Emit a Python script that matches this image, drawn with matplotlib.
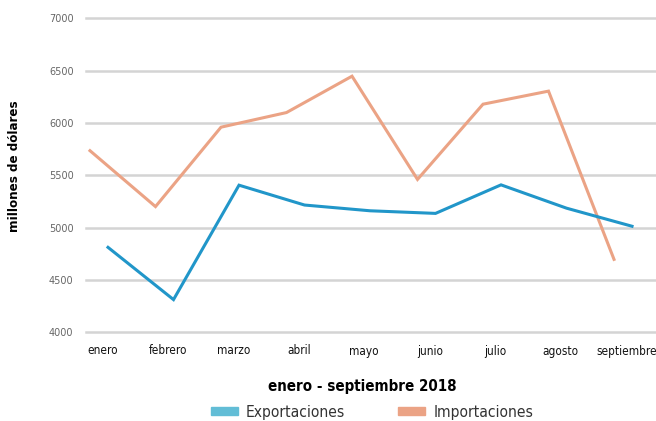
import matplotlib
matplotlib.use("Agg")
import matplotlib.pyplot as plt
from matplotlib.patches import Patch
import numpy as np

meses = ["enero", "febrero", "marzo", "abril", "mayo", "junio", "julio", "agosto", "septiembre"]
exportaciones = [4810, 4310, 5405, 5215, 5160, 5135, 5408, 5185, 5012]
importaciones = [5735, 5200, 5960, 6100, 6448, 5460, 6180, 6305, 4695]
yticks = [4000, 4500, 5000, 5500, 6000, 6500, 7000]

W, H = 656, 421
fig = plt.figure(figsize=(W / 100, H / 100), dpi=100)
ax = fig.add_axes([86 / W, 1 - 332 / H, 1 - 86 / W, (332 - 18.5) / H])

cond = dict(family="DejaVu Sans", stretch="condensed")

x = np.arange(len(meses))
off = 0.275
ax.plot(x, importaciones, color="#eba385", lw=2.2, solid_joinstyle="miter", zorder=3)
ax.plot(x + off, exportaciones, color="#2196c9", lw=2.2, solid_joinstyle="miter", zorder=3)

ax.set_xlim(-0.061, 8.641)
ax.set_ylim(4000, 7000)
ax.set_yticks(yticks)
ax.set_yticklabels([str(v) for v in yticks], fontsize=7, color="#666666", family="DejaVu Sans")
ax.grid(axis="y", color="#d4d4d4", lw=1.8)
for gl in ax.get_ygridlines():
    gl.set_clip_on(False)
ax.set_axisbelow(True)
for s in ax.spines.values():
    s.set_visible(False)
ax.tick_params(axis="y", length=0, pad=9)
ax.tick_params(axis="x", length=0, pad=9)
ax.set_xticks(x + off / 2 + 0.05)
ax.set_xticklabels(meses, fontsize=8.5, color="#111111", **cond)

fig.text(15 / W, 1 - 166 / H, "millones de dólares", rotation=90, ha="center", va="center",
         fontsize=9.5, fontweight="bold", **cond)
fig.text(362 / W, 1 - 386 / H, "enero - septiembre 2018", ha="center", va="center",
         fontsize=10.8, fontweight="bold", **cond)

handles = [Patch(color="#62bdd6", label="Exportaciones"), Patch(color="#eba385", label="Importaciones")]
fig.legend(handles=handles, loc="center", bbox_to_anchor=(372 / W, 1 - 412 / H), ncol=2, frameon=False,
           prop=dict(size=11.2, **cond), labelcolor="#333333", handlelength=1.75, handleheight=0.4,
           columnspacing=3.4, handletextpad=0.5, borderpad=0)

fig.savefig("out.png", dpi=100)
